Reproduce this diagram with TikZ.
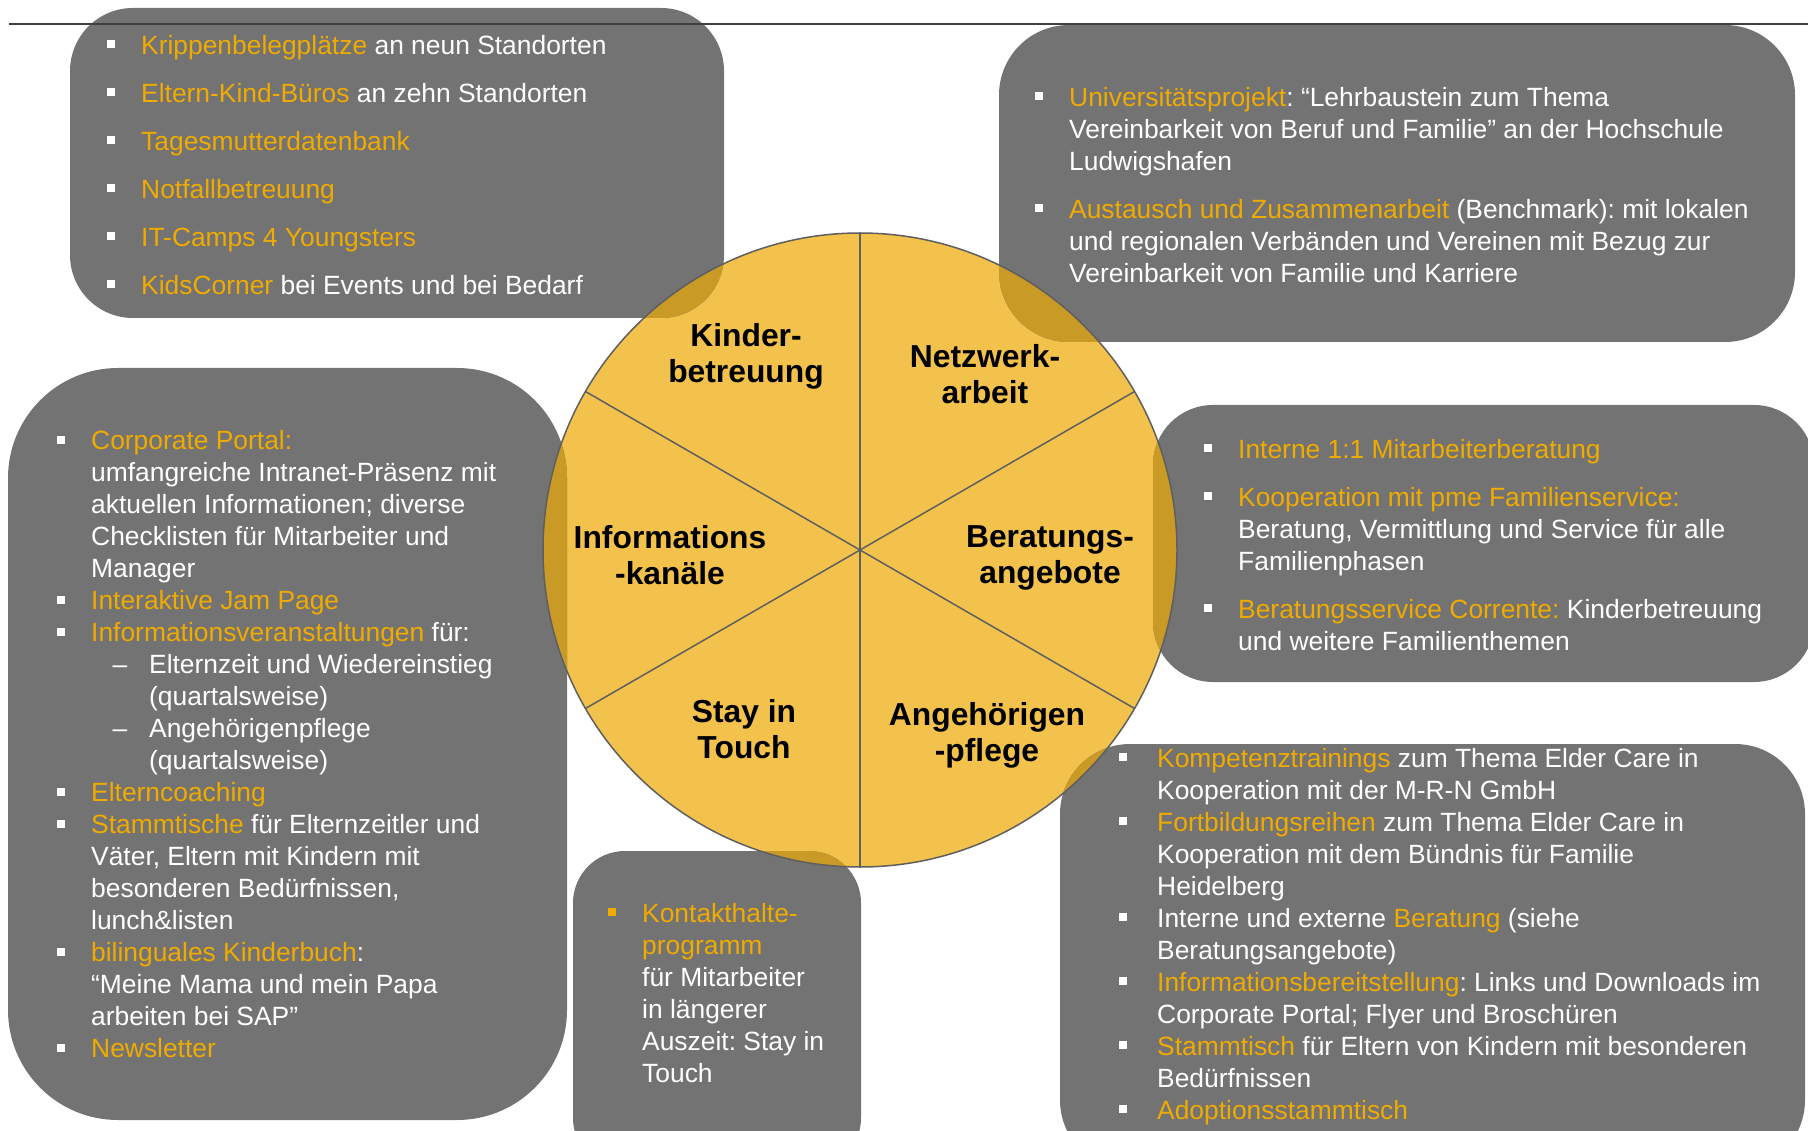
\documentclass[tikz,border=0pt]{standalone}
\usepackage{fontspec}
\setmainfont{Liberation Sans}
\frenchspacing
\definecolor{boxgray}{RGB}{115,115,115}
\definecolor{circyel}{RGB}{242,194,76}
\definecolor{ovl}{RGB}{201,154,37}
\definecolor{sapgold}{RGB}{240,171,0}
\definecolor{linegray}{RGB}{95,95,95}
\newcommand\Y[1]{\textcolor{sapgold}{#1}}
\newcommand\bul{\leavevmode\llap{\raisebox{6pt}{\rule{8pt}{8pt}}\hspace{26pt}}}
\newcommand\bulB{\leavevmode\llap{\raisebox{6pt}{\rule{8pt}{8pt}}\hspace{30pt}}}
\newcommand\gbul{\leavevmode\llap{\textcolor{sapgold}{\raisebox{6pt}{\rule{8pt}{8pt}}}\hspace{26pt}}}
\newcommand\sdash{\leavevmode\llap{–\hspace{22pt}}}
\newcommand\fs{\rule{0pt}{24pt}}
\newcommand\fb{\rule{0pt}{30pt}}
\begin{document}
\begin{tikzpicture}[x=1pt,y=-1pt,
  box/.style={fill=boxgray, draw=none},
  body/.style={anchor=north west, inner sep=0pt, align=left, text=white, font=\frenchspacing\fontsize{26.4}{32}\selectfont},
  lab/.style={anchor=north, inner sep=0pt, align=center, text=black, font=\bfseries\fontsize{31.8}{36.5}\selectfont}]
\useasboundingbox (0,0) rectangle (1808,1131);
\fill[white] (0,0) rectangle (1808,1131);
\coordinate (C) at (860,550);
% circle
\fill[circyel] (C) circle[radius=317pt];
% boxes
\path[box, rounded corners=63pt] (70,8) rectangle (724,318);
\path[box, rounded corners=70pt] (999,25) rectangle (1795,342);
\path[box, rounded corners=110pt] (8,368) rectangle (567,1120);
\path[box, rounded corners=60pt] (1153,405) rectangle (1814,682);
\path[box, rounded corners=70pt] (1060,744) rectangle (1805,1170);
\path[box, rounded corners=52pt] (573,851) rectangle (861,1170);
% overlaps
\begin{scope}
\clip (C) circle[radius=317pt];
\fill[ovl, rounded corners=63pt] (70,8) rectangle (724,318);
\fill[ovl, rounded corners=70pt] (999,25) rectangle (1795,342);
\fill[ovl, rounded corners=110pt] (8,368) rectangle (567,1120);
\fill[ovl, rounded corners=60pt] (1153,405) rectangle (1814,682);
\fill[ovl, rounded corners=70pt] (1060,744) rectangle (1805,1170);
\fill[ovl, rounded corners=52pt] (573,851) rectangle (861,1170);
\end{scope}
\draw[linegray, line width=1.5pt] (C) circle[radius=317pt];
\foreach \a in {90,30,-30,-90,150,210} \draw[linegray, line width=1.5pt] (C) -- ++(\a:317pt);
% top rule
\draw[black!75, line width=1.2pt] (9,24) -- (1808,24);
% circle labels
\node[lab] (l1) at (746,316) {\fb Kinder-\\betreuung};
\node[lab] (l2) at (985,337) {\fb Netzwerk-\\arbeit};
\node[lab] (l3) at (670,518) {\fb Informations\\-kanäle};
\node[lab] (l4) at (1050,517) {\fb Beratungs-\\angebote};
\node[lab] (l5) at (744,692) {\fb Stay in\\Touch};
\node[lab] (l6) at (987,695) {\fb Angehörigen\\-pflege};
% box texts
\node[body, font=\frenchspacing\fontsize{26.4}{48}\selectfont] (t1) at (141,30) {\bul\fs\Y{Krippenbelegplätze} an neun Standorten\\
\bul\Y{Eltern-Kind-Büros} an zehn Standorten\\
\bul\Y{Tagesmutterdatenbank}\\
\bul\Y{Notfallbetreuung}\\
\bul\Y{IT-Camps 4 Youngsters}\\
\bul\Y{KidsCorner} bei Events und bei Bedarf};
\node[body] (t2) at (1069,82) {\bul\fs\Y{Universitätsprojekt}: “Lehrbaustein zum Thema\\
Vereinbarkeit von Beruf und Familie” an der Hochschule\\
Ludwigshafen\\[16pt]
\bul\Y{Austausch und Zusammenarbeit} (Benchmark): mit lokalen\\
und regionalen Verbänden und Vereinen mit Bezug zur\\
Vereinbarkeit von Familie und Karriere};
\node[body] (t3) at (91,425.5) {\bul\fs\Y{Corporate Portal:}\\
umfangreiche Intranet-Präsenz mit\\
aktuellen Informationen; diverse\\
Checklisten für Mitarbeiter und\\
Manager\\
\bul\Y{Interaktive Jam Page}\\
\bul\Y{Informationsveranstaltungen} für:\\
\hspace*{58pt}\sdash Elternzeit und Wiedereinstieg\\
\hspace*{58pt}(quartalsweise)\\
\hspace*{58pt}\sdash Angehörigenpflege\\
\hspace*{58pt}(quartalsweise)\\
\bul\Y{Elterncoaching}\\
\bul\Y{Stammtische} für Elternzeitler und\\
Väter, Eltern mit Kindern mit\\
besonderen Bedürfnissen,\\
lunch\&listen\\
\bul\Y{bilinguales Kinderbuch}:\\
“Meine Mama und mein Papa\\
arbeiten bei SAP”\\
\bul\Y{Newsletter}};
\node[body] (t4) at (1238,434) {\bul\fs\Y{Interne 1:1 Mitarbeiterberatung}\\[16pt]
\bul\Y{Kooperation mit pme Familienservice:}\\
Beratung, Vermittlung und Service für alle\\
Familienphasen\\[16pt]
\bul\Y{Beratungsservice Corrente:} Kinderbetreuung\\
und weitere Familienthemen};
\node[body] (t5) at (1157,743) {\bulB\fs\Y{Kompetenztrainings} zum Thema Elder Care in\\
Kooperation mit der M-R-N GmbH\\
\bulB\Y{Fortbildungsreihen} zum Thema Elder Care in\\
Kooperation mit dem Bündnis für Familie\\
Heidelberg\\
\bulB Interne und externe \Y{Beratung} (siehe\\
Beratungsangebote)\\
\bulB\Y{Informationsbereitstellung}: Links und Downloads im\\
Corporate Portal; Flyer und Broschüren\\
\bulB\Y{Stammtisch} für Eltern von Kindern mit besonderen\\
Bedürfnissen\\
\bulB\Y{Adoptionsstammtisch}};
\node[body] (t6) at (642,898) {\gbul\fs\Y{Kontakthalte-}\\
\Y{programm}\\
für Mitarbeiter\\
in längerer\\
Auszeit: Stay in\\
Touch};
\end{tikzpicture}
\end{document}
